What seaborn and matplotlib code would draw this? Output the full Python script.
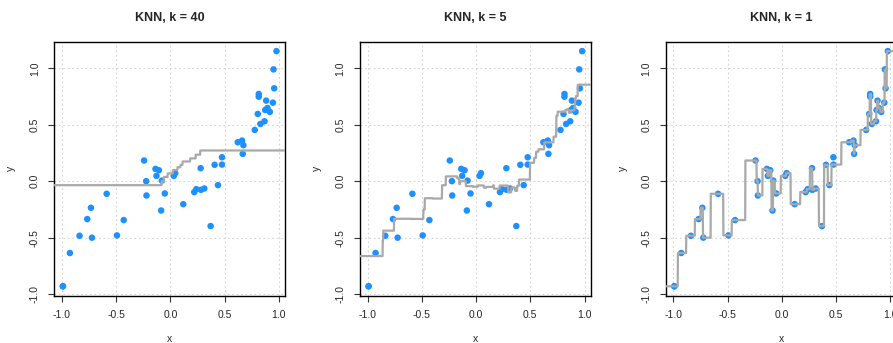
import numpy as np
import pandas as pd
import matplotlib
matplotlib.use("Agg")
import matplotlib.pyplot as plt
import seaborn as sns

# ---- data ----
x_vals = [-0.991, -0.990, -0.926, -0.837, -0.766, -0.732, -0.723, -0.587, -0.492, -0.430,
          -0.242, -0.223, -0.220, -0.137, -0.106, -0.128, -0.078, -0.085, -0.051, 0.032,
          0.045, 0.119, 0.279, 0.220, 0.239, 0.282, 0.313, 0.371, 0.408, 0.439,
          0.476, 0.476, 0.621, 0.661, 0.673, 0.667, 0.778, 0.806, 0.815, 0.815,
          0.830, 0.868, 0.874, 0.883, 0.895, 0.917, 0.945, 0.951, 0.957, 0.978]
y_vals = [-0.932, -0.932, -0.637, -0.484, -0.336, -0.236, -0.501, -0.112, -0.481, -0.345,
          0.183, 0.000, -0.127, 0.109, 0.097, 0.047, 0.005, -0.260, -0.109, 0.047,
          0.071, -0.204, 0.115, -0.097, -0.071, -0.077, -0.065, -0.398, 0.145, -0.035,
          0.147, 0.212, 0.345, 0.360, 0.319, 0.242, 0.454, 0.596, 0.773, 0.749,
          0.507, 0.531, 0.631, 0.714, 0.649, 0.614, 0.696, 0.991, 0.823, 1.153]
k_values = [40, 5, 1]
titles = ["KNN, k = 40", "KNN, k = 5", "KNN, k = 1"]
tick_vals = [-1.0, -0.5, 0.0, 0.5, 1.0]
tick_labels = ["-1.0", "-0.5", "0.0", "0.5", "1.0"]

df = pd.DataFrame({"x": x_vals, "y": y_vals})


def knn_predict(xq, xs, ys, k):
    xs = np.asarray(xs)
    ys = np.asarray(ys)
    out = np.empty(len(xq))
    for i, q in enumerate(xq):
        idx = np.argsort(np.abs(xs - q), kind="stable")[:k]
        out[i] = ys[idx].mean()
    return out


sns.set_style("white")
plt.rcParams["font.family"] = ["Liberation Sans", "DejaVu Sans"]

W, H = 893, 343
fig = plt.figure(figsize=(W / 100, H / 100), dpi=100)

lefts = [54.3, 360.0, 665.7]
pw = 230.7
top, bottom = 41.7, 295.7

xr = max(x_vals) - min(x_vals)
yr = max(y_vals) - min(y_vals)
xlim = (min(x_vals) - 0.04 * xr, max(x_vals) + 0.04 * xr)
ylim = (min(y_vals) - 0.04 * yr, max(y_vals) + 0.04 * yr)

grid_x = np.linspace(-1.2, 1.2, 2401)

for i, (k, title) in enumerate(zip(k_values, titles)):
    ax = fig.add_axes([lefts[i] / W, 1 - bottom / H, pw / W, (bottom - top) / H])
    ax.set_xlim(xlim)
    ax.set_ylim(ylim)
    for t in tick_vals:
        ax.axvline(t, color="#d3d3d3", lw=0.8, ls=(0, (1.5, 2.5)), zorder=0)
        ax.axhline(t, color="#d3d3d3", lw=0.8, ls=(0, (1.5, 2.5)), zorder=0)
    sns.scatterplot(data=df, x="x", y="y", ax=ax, color="#1E90FF", s=22,
                    edgecolor="none", zorder=3, legend=False)
    pred = knn_predict(grid_x, x_vals, y_vals, k)
    fit = pd.DataFrame({"x": grid_x, "y": pred})
    sns.lineplot(data=fit, x="x", y="y", ax=ax, color="darkgray", lw=1.6,
                 estimator=None, sort=False, zorder=4, legend=False)
    ax.set_xticks(tick_vals)
    ax.set_xticklabels(tick_labels, fontsize=7.5)
    ax.set_yticks(tick_vals)
    ax.set_yticklabels(tick_labels, fontsize=7.5, rotation=90, va="center")
    ax.tick_params(axis="both", direction="out", length=4.3, width=0.8,
                   color="#333333", pad=6, left=True, bottom=True)
    for sp in ax.spines.values():
        sp.set_visible(True)
        sp.set_color("black")
        sp.set_linewidth(1.0)
    ax.set_xlabel("x", fontsize=7.5, labelpad=10)
    ax.set_ylabel("y", fontsize=7.5, labelpad=10)
    ax.set_title(title, fontsize=9, fontweight="bold", pad=15)

fig.savefig("out.png", dpi=100)
